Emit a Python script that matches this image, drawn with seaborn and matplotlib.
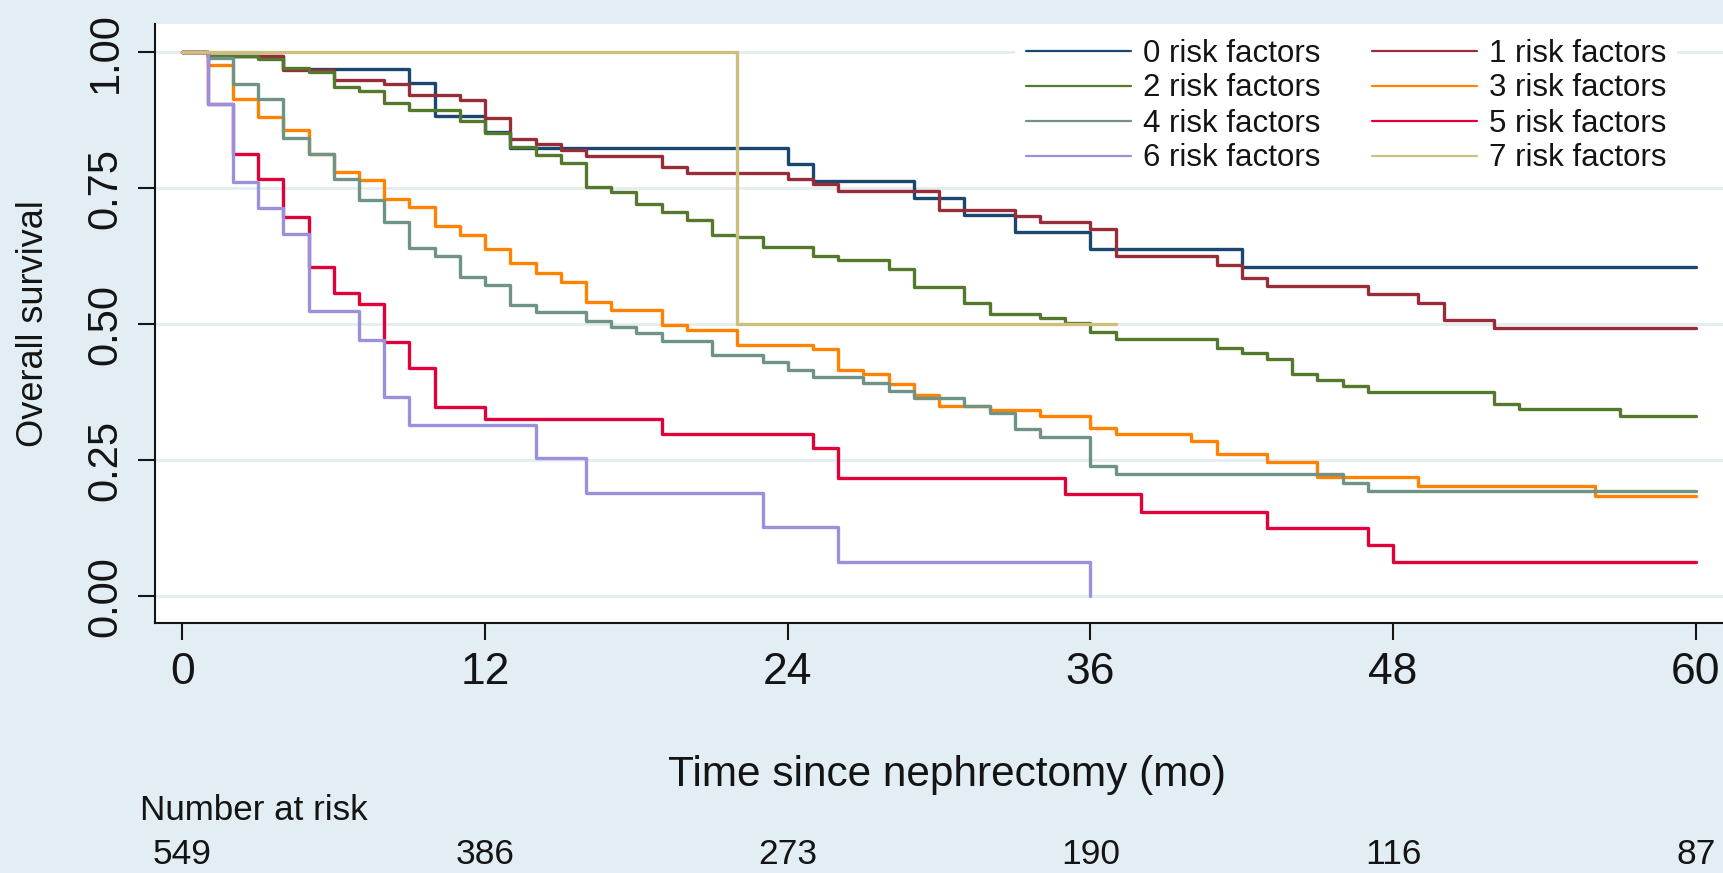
import pandas as pd
import matplotlib
matplotlib.use("Agg")
import matplotlib.pyplot as plt
import seaborn as sns
from matplotlib.transforms import blended_transform_factory

# Kaplan-Meier step estimates: month of each step and survival from that month on
t_rf0 = [0, 1, 4, 9, 10, 12, 13, 24, 25, 29, 31, 33, 36, 42, 60]
s_rf0 = [1.0, 0.993, 0.969, 0.943, 0.883, 0.854, 0.825, 0.795, 0.764, 0.733, 0.701, 0.669, 0.638, 0.606, 0.606]

t_rf1 = [0, 1, 4, 6, 8, 9, 11, 12, 13, 14, 15, 16, 19, 20, 24, 25, 26, 30, 33, 34, 36, 37,
         41, 42, 43, 47, 49, 50, 52, 60]
s_rf1 = [1.0, 0.993, 0.968, 0.950, 0.941, 0.921, 0.912, 0.880, 0.841, 0.831, 0.821, 0.810,
         0.790, 0.779, 0.767, 0.758, 0.746, 0.711, 0.699, 0.689, 0.675, 0.625,
         0.609, 0.585, 0.571, 0.555, 0.540, 0.509, 0.494, 0.494]

t_rf2 = [0, 1, 3, 4, 5, 6, 7, 8, 9, 11, 12, 13, 14, 15, 16, 17, 18, 19, 20, 21, 22, 23, 25,
         26, 28, 29, 31, 32, 34, 35, 36, 37, 41, 42, 43, 44, 45, 46, 47, 52, 53, 57, 60]
s_rf2 = [1.0, 0.993, 0.987, 0.971, 0.964, 0.937, 0.929, 0.907, 0.894, 0.873, 0.851, 0.826,
         0.811, 0.796, 0.752, 0.744, 0.721, 0.706, 0.691, 0.665, 0.660, 0.643, 0.626,
         0.618, 0.601, 0.568, 0.539, 0.520, 0.511, 0.503, 0.486, 0.474, 0.456, 0.447,
         0.436, 0.408, 0.397, 0.387, 0.376, 0.354, 0.344, 0.332, 0.332]

t_rf3 = [0, 1, 2, 3, 4, 5, 6, 7, 8, 9, 10, 11, 12, 13, 14, 15, 16, 17, 19, 20, 22, 25, 26,
         27, 28, 29, 30, 32, 34, 36, 37, 40, 41, 43, 45, 49, 56, 60]
s_rf3 = [1.0, 0.976, 0.915, 0.881, 0.858, 0.814, 0.780, 0.765, 0.731, 0.715, 0.680, 0.664,
         0.638, 0.612, 0.594, 0.578, 0.542, 0.527, 0.499, 0.490, 0.462, 0.455, 0.416,
         0.408, 0.390, 0.370, 0.350, 0.342, 0.331, 0.309, 0.298, 0.286, 0.262, 0.248,
         0.220, 0.203, 0.185, 0.185]

t_rf4 = [0, 1, 2, 3, 4, 5, 6, 7, 8, 9, 10, 11, 12, 13, 14, 16, 17, 18, 19, 21, 23, 24, 25,
         27, 28, 29, 31, 32, 33, 34, 36, 37, 46, 47, 60]
s_rf4 = [1.0, 0.989, 0.941, 0.915, 0.842, 0.814, 0.768, 0.728, 0.689, 0.640, 0.626, 0.588,
         0.572, 0.535, 0.522, 0.507, 0.496, 0.484, 0.470, 0.444, 0.430, 0.416, 0.404,
         0.392, 0.378, 0.364, 0.350, 0.337, 0.308, 0.294, 0.239, 0.225, 0.209, 0.194, 0.194]

t_rf5 = [0, 1, 2, 3, 4, 5, 6, 7, 8, 9, 10, 12, 19, 25, 26, 35, 38, 43, 47, 48, 60]
s_rf5 = [1.0, 0.905, 0.813, 0.768, 0.698, 0.606, 0.558, 0.537, 0.467, 0.419, 0.349, 0.326,
         0.299, 0.273, 0.218, 0.188, 0.156, 0.125, 0.095, 0.063, 0.063]

t_rf6 = [0, 1, 2, 3, 4, 5, 7, 8, 9, 14, 16, 23, 26, 36]
s_rf6 = [1.0, 0.905, 0.761, 0.714, 0.667, 0.524, 0.471, 0.367, 0.315, 0.254, 0.190, 0.127, 0.064, 0.0]

t_rf7 = [0, 22, 37]
s_rf7 = [1.0, 0.5, 0.5]

group_labels = [f"{k} risk factors" for k in range(8)]
times = [t_rf0, t_rf1, t_rf2, t_rf3, t_rf4, t_rf5, t_rf6, t_rf7]
survival = [s_rf0, s_rf1, s_rf2, s_rf3, s_rf4, s_rf5, s_rf6, s_rf7]

x_ticks = [0, 12, 24, 36, 48, 60]
y_ticks = [0.0, 0.25, 0.50, 0.75, 1.00]
risk_times = [0, 12, 24, 36, 48, 60]
n_at_risk = [549, 386, 273, 190, 116, 87]

palette = ["#1a476f", "#962d38", "#55792c", "#ff8200",
           "#6f9384", "#e0003a", "#9b90dc", "#cdbf7c"]

df = pd.concat(
    [pd.DataFrame({"time": t, "survival": s, "group": g})
     for g, t, s in zip(group_labels, times, survival)],
    ignore_index=True,
)

sns.set_theme(style="white")
plt.rcParams["font.family"] = ["Liberation Sans", "DejaVu Sans"]

bg = "#e3eef4"
ink = "#141414"
W, H = 1724, 873

fig = plt.figure(figsize=(W / 100, H / 100), dpi=100, facecolor=bg)
ax = fig.add_axes([155 / W, 1 - 623 / H, 1 - 155 / W, (623 - 24) / H])
ax.set_facecolor("white")

sns.lineplot(
    data=df, x="time", y="survival", hue="group", hue_order=group_labels,
    palette=palette, drawstyle="steps-post", estimator=None, sort=False,
    linewidth=2.4, ax=ax,
)

ax.set_xlim(-1.09, 61.12)
ax.set_ylim(-0.0487, 1.052)

ax.set_xticks(x_ticks)
ax.set_xticklabels([str(v) for v in x_ticks])
ax.set_yticks(y_ticks)
ax.set_yticklabels([f"{v:.2f}" for v in y_ticks], rotation=90, va="center")

ax.tick_params(axis="both", which="major", direction="out", length=12, width=1.5,
               color=ink, labelcolor=ink, left=True, bottom=True)
ax.tick_params(axis="x", labelsize=32, pad=9)
ax.tick_params(axis="y", labelsize=30, pad=9)

ax.yaxis.grid(True, color="#e3ecef", linewidth=2)
ax.xaxis.grid(False)
ax.set_axisbelow(True)

for side in ("top", "right"):
    ax.spines[side].set_visible(False)
for side in ("left", "bottom"):
    ax.spines[side].set_color(ink)
    ax.spines[side].set_linewidth(1.5)

ax.set_xlabel("Time since nephrectomy (mo)", fontsize=30.5, color=ink)
ax.xaxis.label.set_va("center")
ax.xaxis.set_label_coords(0.505, ((H - 775) / H - (1 - 623 / H)) / ((623 - 24) / H))

ax.set_ylabel("Overall survival", fontsize=26, color=ink)
ax.yaxis.label.set_va("center")
ax.yaxis.set_label_coords((33 - 155) / (W - 155), 0.5)

# Legend: two columns, rows ordered 0/1, 2/3, 4/5, 6/7
handles, labels = ax.get_legend_handles_labels()
order = [0, 2, 4, 6, 1, 3, 5, 7]
leg = ax.legend(
    [handles[i] for i in order], [labels[i] for i in order],
    ncol=2, loc="center", bbox_to_anchor=(1346 / W, 1 - 106 / H),
    bbox_transform=fig.transFigure, frameon=True, fancybox=False,
    facecolor="white", edgecolor="none", framealpha=1.0,
    fontsize=22.5, handlelength=3.36, handletextpad=0.38, columnspacing=1.66,
    labelspacing=0.16, borderpad=0.35,
)
for line in leg.get_lines():
    line.set_linewidth(1.6)
for txt in leg.get_texts():
    txt.set_color(ink)

# Number-at-risk table under the axis
fig.text(140 / W, 1 - 811 / H, "Number at risk", fontsize=25.2, ha="left", va="center", color=ink)
trans = blended_transform_factory(ax.transData, fig.transFigure)
for t, n in zip(risk_times, n_at_risk):
    ax.text(t, 1 - 854 / H, str(n), transform=trans, ha="center", va="center",
            fontsize=25.5, color=ink, clip_on=False)

fig.savefig("out.png", dpi=100, facecolor=bg)
